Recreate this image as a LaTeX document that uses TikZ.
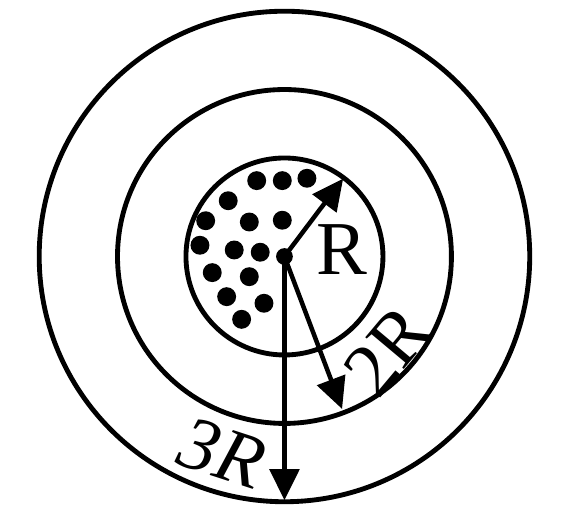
\documentclass[tikz,border=0pt]{standalone}
\usepackage{fontspec}
\setmainfont{Liberation Serif}
\usetikzlibrary{arrows.meta}

\begin{document}
\begin{tikzpicture}[line width=1.4pt,
  radius arrow/.style={line width=1.3pt,-{Triangle[length=9pt,width=8.5pt]}},
  radius label/.style={font=\fontsize{22}{22}\selectfont,inner sep=0pt}]

\useasboundingbox (-2.888,-2.716) rectangle (2.838,2.604);

\coordinate (c) at (0,0);
\draw (c) circle (1);
\draw (c) circle (1.695);
\draw (c) circle (2.49);

\foreach \x/\y in {-0.282/0.770,-0.022/0.770,0.228/0.794,-0.571/0.566,-0.800/0.363,
  -0.357/0.350,-0.022/0.368,-0.858/0.114,-0.510/0.066,-0.246/0.043,
  -0.733/-0.164,-0.357/-0.205,-0.587/-0.408,-0.208/-0.475,-0.435/-0.638}
  \fill (\x,\y) circle (0.096);
\fill (c) circle (0.085);

\coordinate (tipR) at (53:0.99);
\coordinate (tip2R) at (-69.3:1.655);
\coordinate (tip3R) at (-90:2.475);
\draw[radius arrow] (c) -- (tipR);
\draw[radius arrow] (c) -- (tip2R);
\draw[radius arrow] (c) -- (tip3R);

\node[radius label] (labR) at (0.584,0.07) {R};
\node[radius label,rotate=50] (lab2R) at (1.045,-0.955) {2R};
\node[radius label,rotate=-18] (lab3R) at (-0.635,-1.995) {\textit{3R}};

\end{tikzpicture}
\end{document}
